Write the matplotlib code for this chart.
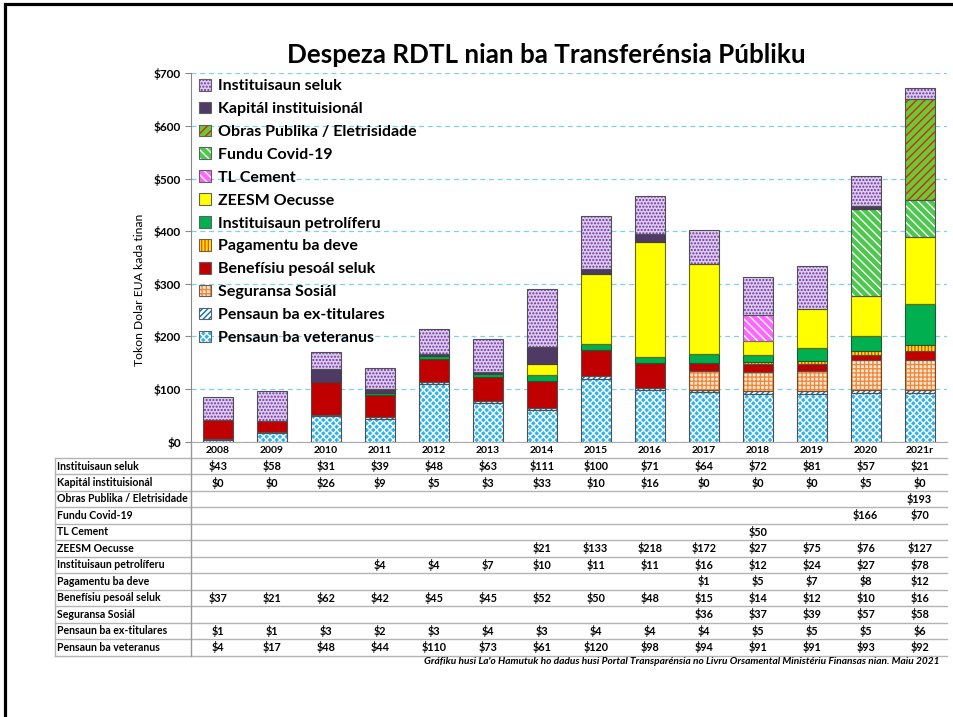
import matplotlib
matplotlib.use('Agg')
import matplotlib.pyplot as plt
import matplotlib.transforms as mtransforms
from matplotlib.patches import Patch, Rectangle
from matplotlib.lines import Line2D
import numpy as np

plt.rcParams['font.family'] = ['Lato', 'DejaVu Sans']
plt.rcParams['hatch.linewidth'] = 1.0

# values in million US$ per year, None = empty cell in the table
years = ['2008', '2009', '2010', '2011', '2012', '2013', '2014', '2015', '2016', '2017', '2018', '2019', '2020', '2021r']
inst_seluk = [43, 58, 31, 39, 48, 63, 111, 100, 71, 64, 72, 81, 57, 21]
kapital = [0, 0, 26, 9, 5, 3, 33, 10, 16, 0, 0, 0, 5, 0]
obras = [None] * 13 + [193]
covid = [None] * 12 + [166, 70]
tl_cement = [None] * 10 + [50, None, None, None]
zeesm = [None] * 6 + [21, 133, 218, 172, 27, 75, 76, 127]
petrol = [None] * 3 + [4, 4, 7, 10, 11, 11, 16, 12, 24, 27, 78]
pagamentu = [None] * 9 + [1, 5, 7, 8, 12]
benefisiu = [37, 21, 62, 42, 45, 45, 52, 50, 48, 15, 14, 12, 10, 16]
seguransa = [None] * 9 + [36, 37, 39, 57, 58]
ex_titulares = [1, 1, 3, 2, 3, 4, 3, 4, 4, 4, 5, 5, 5, 6]
veteranus = [4, 17, 48, 44, 110, 73, 61, 120, 98, 94, 91, 91, 93, 92]

# stacking order bottom -> top: label, values, face, hatch, hatch colour, edge
series = [
    ('Pensaun ba veteranus', veteranus, '#2ab3ee', 'xxxxx', 'white', '#505050'),
    ('Pensaun ba ex-titulares', ex_titulares, 'white', '//////', '#0070c0', '#505050'),
    ('Seguransa Sosiál', seguransa, '#fde9d9', '++++', '#ef8a3c', '#7a4a20'),
    ('Benefísiu pesoál seluk', benefisiu, '#c00000', None, None, '#505050'),
    ('Pagamentu ba deve', pagamentu, '#ffee00', '|||||', '#ff4400', '#505050'),
    ('Instituisaun petrolíferu', petrol, '#00b050', None, None, '#1d5a2e'),
    ('ZEESM Oecusse', zeesm, '#ffff00', None, None, '#6b6b00'),
    ('TL Cement', tl_cement, '#ff66ff', '\\\\\\\\', 'white', '#707070'),
    ('Fundu Covid-19', covid, '#4cc84c', '\\\\\\\\', 'white', '#505050'),
    ('Obras Publika / Eletrisidade', obras, '#66cc33', '////', '#e02020', '#505050'),
    ('Kapitál instituisionál', kapital, '#4f3a66', None, None, '#404040'),
    ('Instituisaun seluk', inst_seluk, '#dccdf0', '.....', '#7030a0', '#505050'),
]

W, H = 954, 717
fig = plt.figure(figsize=(W / 100, H / 100), dpi=100)
ax = fig.add_axes([190.7 / W, 1 - 441.7 / H, 756 / W, 368.4 / H])

x = np.arange(len(years))
width = 0.56
bottom = np.zeros(len(years))
for label, vals, face, hatch, hcol, edge in series:
    v = np.array([0 if a is None else a for a in vals], dtype=float)
    m = v > 0
    # fill + hatch first, then the outline on top
    ax.bar(x[m], v[m], width, bottom=bottom[m], color=face, hatch=hatch,
           edgecolor=hcol if hcol else face, linewidth=0, zorder=3)
    ax.bar(x[m], v[m], width, bottom=bottom[m], facecolor='none',
           edgecolor=edge, linewidth=0.8, zorder=4)
    bottom += v

ax.set_xlim(-0.5, len(years) - 0.5)
ax.set_ylim(0, 700)
ax.set_yticks(np.arange(0, 701, 100))
ax.set_yticklabels(['$' + str(t) for t in range(0, 701, 100)], fontsize=8.5, fontweight='bold')
ax.set_xticks(x)
ax.set_xticklabels(years, fontsize=7.5, fontweight='bold')
ax.tick_params(axis='x', length=0, pad=3)
ax.tick_params(axis='y', length=4, color='#888888', pad=3)
ax.yaxis.grid(True, color='#7fd0ee', linestyle=(0, (4, 3)), linewidth=0.9, zorder=0)
ax.set_axisbelow(True)
for s in ['top', 'right']:
    ax.spines[s].set_visible(False)
ax.spines['left'].set_color('#888888')
ax.spines['bottom'].set_color('#aaaaaa')
ax.set_ylabel('Tokon Dolar EUA kada tinan', fontsize=8.7)
ax.yaxis.set_label_coords(-0.06, 0.412)

# legend, top entry first
handles = []
labels = []
for label, vals, face, hatch, hcol, edge in reversed(series):
    p1 = Patch(facecolor=face, hatch=hatch, edgecolor=hcol if hcol else face, linewidth=0)
    p2 = Patch(facecolor='none', edgecolor='#606060', linewidth=0.8)
    handles.append((p1, p2))
    labels.append(label)
ax.legend(handles, labels, loc='upper left', bbox_to_anchor=(0.011, 0.985), frameon=False,
          handlelength=0.75, handleheight=0.75, handletextpad=0.45, labelspacing=0.53,
          borderaxespad=0, borderpad=0, prop={'family': 'Lato', 'weight': 'bold', 'size': 11.5})

fig.text(546 / W, 1 - 55 / H, 'Despeza RDTL nian ba Transferénsia Públiku',
         ha='center', va='center', fontsize=18.7, fontweight='bold')

# data table under the chart
trans = mtransforms.blended_transform_factory(ax.transData, fig.transFigure)
row_top = 457.8
row_h = 16.48
rows = list(reversed(series))
for i, (label, vals, face, hatch, hcol, edge) in enumerate(rows):
    yc = 1 - (row_top + row_h * (i + 0.5)) / H
    fig.text(57.5 / W, yc, label, ha='left', va='center', fontsize=7.6, fontweight='bold')
    for j, v in enumerate(vals):
        if v is not None:
            ax.text(j, yc, '$' + str(v), transform=trans, ha='center', va='center',
                    fontsize=7.8, fontweight='bold', clip_on=False)

line_col = '#b4b4b4'
for i in range(len(rows) + 1):
    yy = 1 - (row_top + row_h * i) / H
    fig.add_artist(Line2D([55 / W, 947 / W], [yy, yy], color=line_col, linewidth=1.0))
y_bot = 1 - (row_top + row_h * len(rows)) / H
fig.add_artist(Line2D([55 / W, 55 / W], [1 - row_top / H, y_bot], color=line_col, linewidth=1.0))
fig.add_artist(Line2D([190.7 / W, 190.7 / W], [1 - 441.7 / H, y_bot], color='#999999', linewidth=1.0))

fig.text(940 / W, 1 - 662 / H,
         "Gráfiku husi La'o Hamutuk ho dadus husi Portal Transparénsia no Livru Orsamental Ministériu Finansas nian. Maiu 2021",
         ha='right', va='center', fontsize=7.3, fontweight='bold', style='italic')

# outer frame of the original slide
fig.add_artist(Rectangle((5.5 / W, -0.1), 1.2, 1.1 - 3.5 / H, transform=fig.transFigure,
                         fill=False, edgecolor='black', linewidth=2.3))

fig.savefig('out.png', dpi=100)
plt.close()
